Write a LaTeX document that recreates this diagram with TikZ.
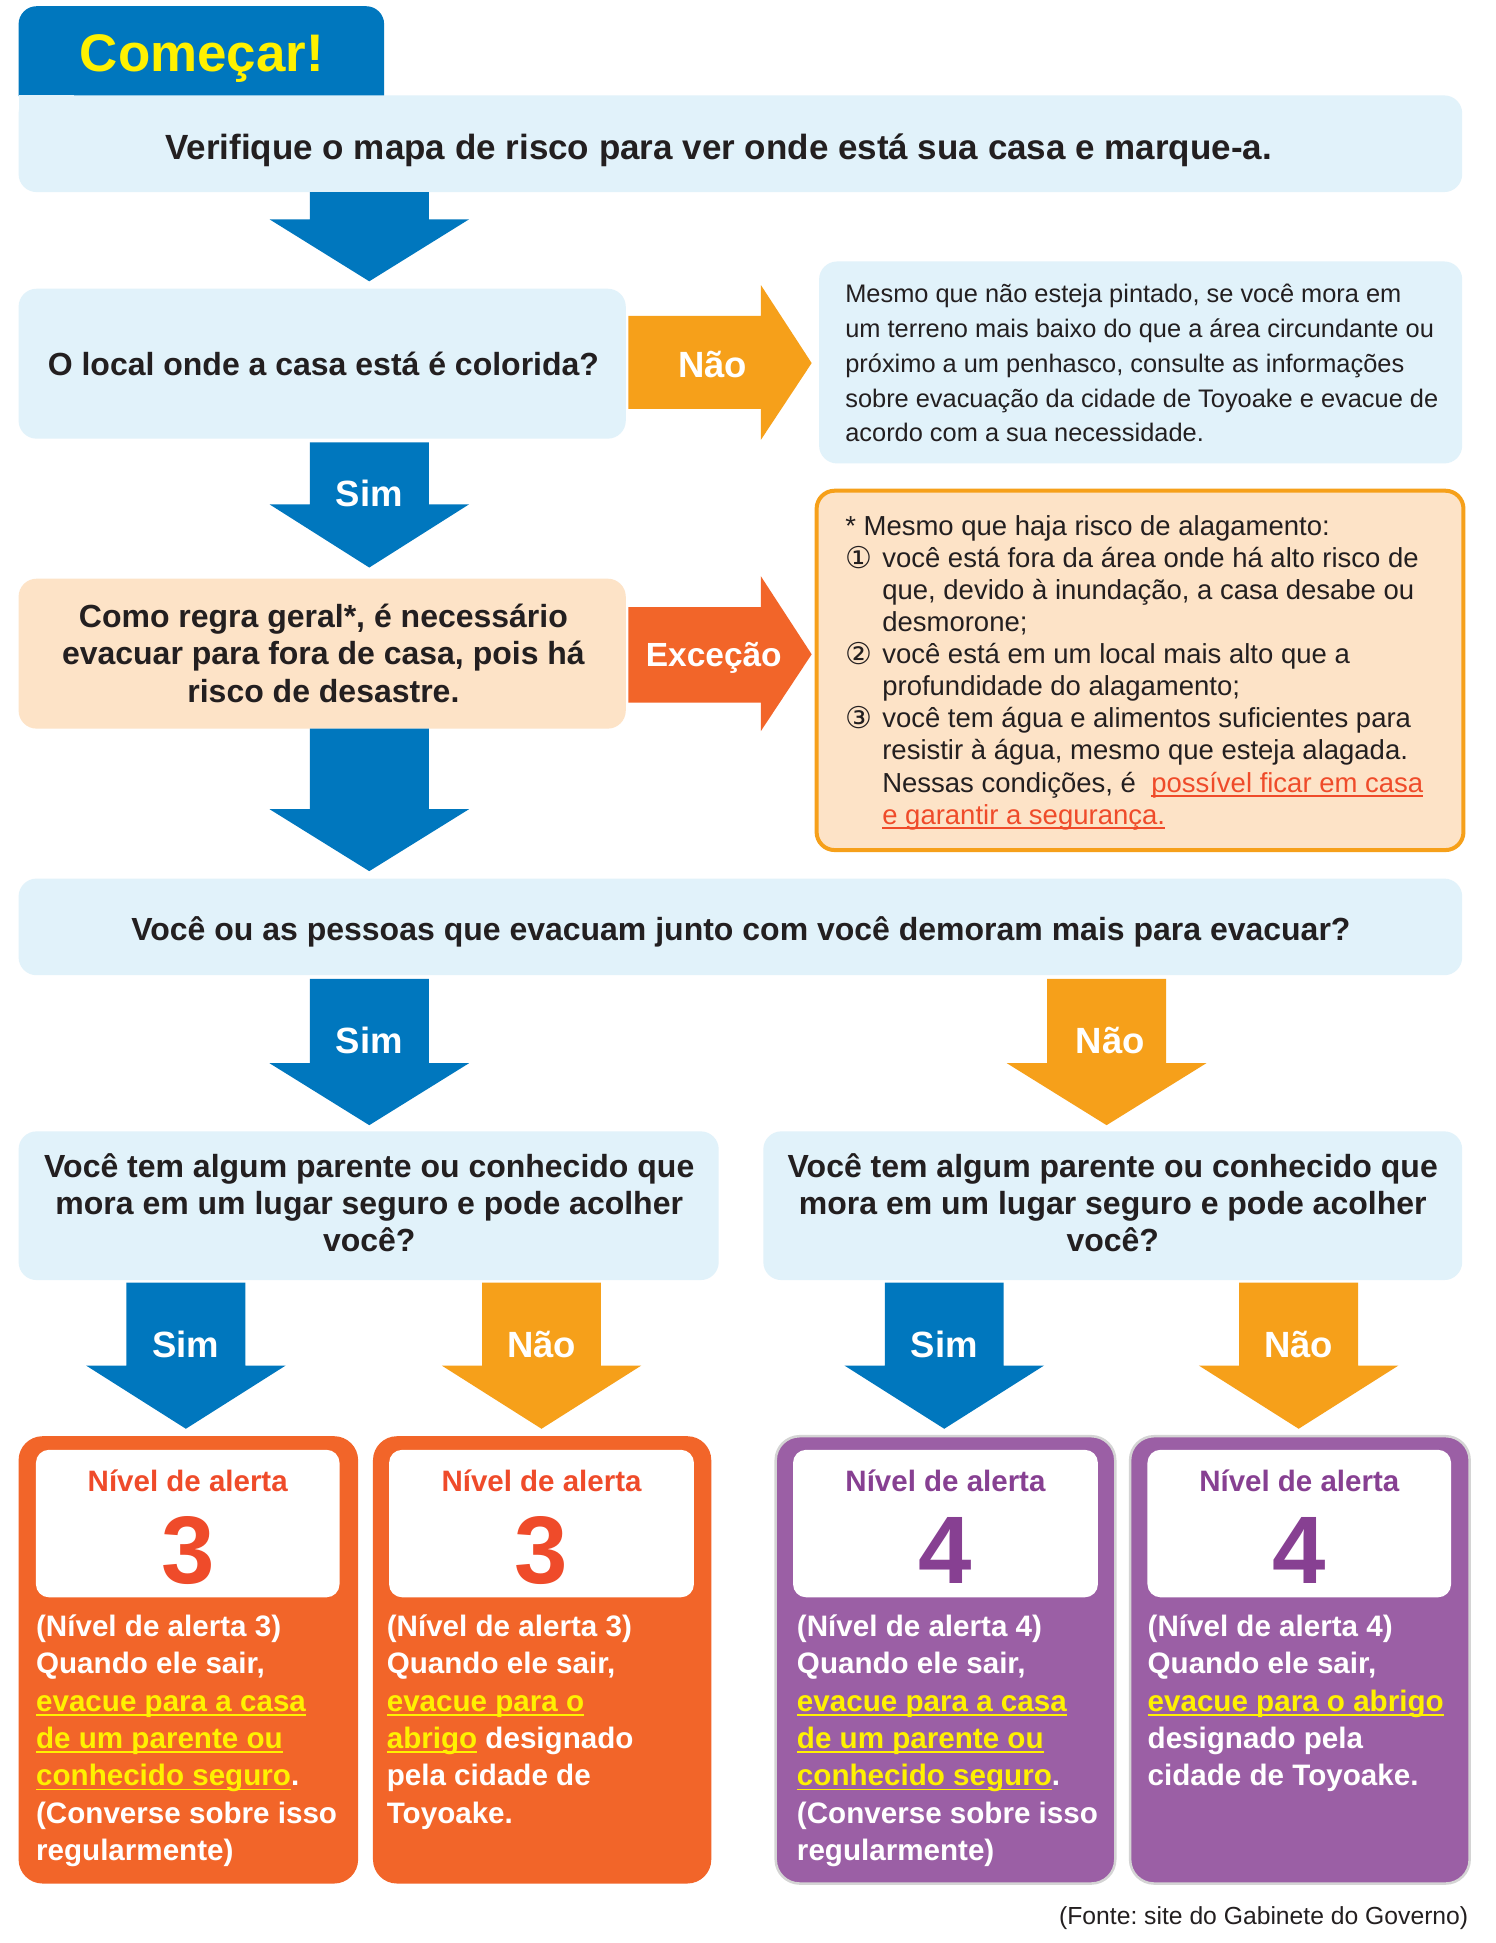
\documentclass[tikz,border=0pt]{standalone}
\usepackage{fontspec}
\setmainfont{Liberation Sans}
\newfontfamily\symfont{DejaVu Sans}
\usetikzlibrary{fit}
\definecolor{cblue}{RGB}{0,119,190}
\definecolor{lblue}{RGB}{225,242,250}
\definecolor{corange}{RGB}{246,160,26}
\definecolor{cred}{RGB}{242,101,41}
\definecolor{peach}{RGB}{253,227,199}
\definecolor{cpurple}{RGB}{155,95,165}
\definecolor{dpurple}{RGB}{135,64,146}
\definecolor{tred}{RGB}{239,75,42}
\definecolor{cyellow}{RGB}{255,241,0}
\definecolor{ctext}{RGB}{35,31,32}
\definecolor{cgrey}{RGB}{212,212,212}
\newcommand\myul[1]{\setbox0\hbox{#1}\rlap{\rule[-4.5pt]{\wd0}{1.8pt}}\box0}
\newcommand\yul[1]{{\color{cyellow}\myul{#1}}}
\newcommand\rul[1]{{\color{tred}\myul{#1}}}
\newcommand\circd[1]{\makebox[37pt][l]{\raisebox{-1pt}{\symfont\fontsize{30}{30}\selectfont #1}}}
\newcommand\ind{\hspace*{37pt}}
\newcommand\downblk[5]{%
  \fill[#5] ({#1-48},#2) -- ({#1+48},#2) -- ({#1+48},#3) -- ({#1+80.5},#3) -- (#1,#4) -- ({#1-80.5},#3) -- ({#1-48},#3) -- cycle;}
\tikzset{
  box/.style={fill=lblue, rounded corners=18pt, inner sep=0pt},
  pbox/.style={fill=peach, rounded corners=18pt, inner sep=0pt},
  qtext/.style={font=\fontsize{32}{37.8}\selectfont\bfseries, text=ctext, inner sep=0pt},
  albl/.style={font=\fontsize{36.5}{40}\selectfont\bfseries, text=white, inner sep=0pt, anchor=base},
  card3/.style={fill=cred, rounded corners=24pt, inner sep=0pt},
  card4/.style={fill=cpurple, draw=cgrey, line width=2.5pt, rounded corners=24pt, inner sep=0pt},
  wbox/.style={fill=white, rounded corners=13pt, inner sep=0pt},
  lvl/.style={font=\fontsize{29.5}{34}\selectfont\bfseries, inner sep=0pt, anchor=base},
  digit/.style={font=\fontsize{96}{100}\selectfont\bfseries, inner sep=0pt, anchor=base},
  ctext/.style={font=\fontsize{29.6}{37.4}\selectfont\bfseries, text=white, inner sep=0pt, anchor=base west},
}
\frenchspacing
\begin{document}
\begin{tikzpicture}[x=1.2394pt,y=-1.2394pt]
\useasboundingbox[fill=white] (0,0) rectangle (1207,1568);

% start tab and first box
\fill[cblue] (15,77.5) [rounded corners=18pt] -- (15,5) -- (310,5) [sharp corners] -- (310,77.5) -- cycle;
\node[box, fit={(15,77) (1180,155)}] (b1) {};
\fill[lblue] (15,77) rectangle (60,120);
\node[anchor=base, font=\fontsize{52.9}{60}\selectfont\bfseries, text=cyellow, inner sep=0pt] (start) at (163,58) {Começar!};
\node[qtext, font=\fontsize{35}{40}\selectfont\bfseries, anchor=base] (t1) at (580,129) {Verifique o mapa de risco para ver onde está sua casa e marque-a.};

\downblk{298}{155}{177}{227}{cblue}

% question 1
\node[box, fit={(15,233) (505,354)}] (b2) {};
\node[qtext, anchor=base] (t2) at (261,303) {O local onde a casa está é colorida?};
\fill[corange] (507,255) -- (614,255) -- (614,230) -- (655,293) -- (614,355) -- (614,330) -- (507,330) -- cycle;
\node[albl] (nao1) at (575,304.5) {Não};
\node[box, fit={(661,211) (1180,374)}] (b3) {};
\node[anchor=base west, inner sep=0pt, text=ctext, font=\fontsize{25.4}{34.7}\selectfont] (t3) at (682,244.5) {\begin{tabular}[t]{@{}l@{}}
Mesmo que não esteja pintado, se você mora em\\
um terreno mais baixo do que a área circundante ou\\
próximo a um penhasco, consulte as informações\\
sobre evacuação da cidade de Toyoake e evacue de\\
acordo com a sua necessidade.
\end{tabular}};

\downblk{298}{357}{407}{458}{cblue}
\node[albl] (sim1) at (298,408.5) {Sim};

% rule
\node[pbox, fit={(15,467) (505,588)}] (b4) {};
\node[qtext, anchor=base] (t4) at (261,506) {\begin{tabular}[t]{@{}c@{}}
Como regra geral*, é necessário\\
evacuar para fora de casa, pois há\\
risco de desastre.
\end{tabular}};
\fill[cred] (507,490) -- (614,490) -- (614,465) -- (655,528) -- (614,590) -- (614,567) -- (507,567) -- cycle;
\node[albl, font=\fontsize{33.5}{38}\selectfont\bfseries] (exc) at (576,537.7) {Exceção};
\node[pbox, draw=corange, line width=4pt, fit={(659,396) (1181,686)}] (b5) {};
\node[anchor=base west, inner sep=0pt, text=ctext, font=\fontsize{27.5}{32.1}\selectfont] (t5) at (682,432) {\begin{tabular}[t]{@{}l@{}}
* Mesmo que haja risco de alagamento:\\
\circd{①}você está fora da área onde há alto risco de\\
\ind que, devido à inundação, a casa desabe ou\\
\ind desmorone;\\
\circd{②}você está em um local mais alto que a\\
\ind profundidade do alagamento;\\
\circd{③}você tem água e alimentos suficientes para\\
\ind resistir à água, mesmo que esteja alagada.\\
\ind Nessas condições, é \ \rul{possível ficar em casa}\\
\ind \rul{e garantir a segurança.}
\end{tabular}};

\downblk{298}{588}{653}{703}{cblue}

% question 2
\node[box, fit={(15,709) (1180,787)}] (b6) {};
\node[qtext, anchor=base] (t6) at (598,759) {Você ou as pessoas que evacuam junto com você demoram mais para evacuar?};
\downblk{298}{790}{858}{908}{cblue}
\node[albl] (sim2) at (298,850.5) {Sim};
\downblk{893}{790}{858}{908}{corange}
\node[albl] (nao2) at (896,850.5) {Não};

% question 3
\node[box, fit={(15,913) (580,1033)}] (b7) {};
\node[qtext, font=\fontsize{32}{37.2}\selectfont\bfseries, anchor=base] (t7) at (298,950) {\begin{tabular}[t]{@{}c@{}}
Você tem algum parente ou conhecido que\\
mora em um lugar seguro e pode acolher\\
você?
\end{tabular}};
\node[box, fit={(616,913) (1180,1033)}] (b8) {};
\node[qtext, font=\fontsize{32}{37.2}\selectfont\bfseries, anchor=base] (t8) at (898,950) {\begin{tabular}[t]{@{}c@{}}
Você tem algum parente ou conhecido que\\
mora em um lugar seguro e pode acolher\\
você?
\end{tabular}};

\downblk{150}{1035}{1102}{1153}{cblue}
\node[albl] (sim3) at (150,1095.5) {Sim};
\downblk{437}{1035}{1102}{1153}{corange}
\node[albl] (nao3) at (437,1095.5) {Não};
\downblk{762}{1035}{1102}{1153}{cblue}
\node[albl] (sim4) at (762,1095.5) {Sim};
\downblk{1048}{1035}{1102}{1153}{corange}
\node[albl] (nao4) at (1048,1095.5) {Não};

% cards
\node[card3, fit={(15,1159) (289,1520)}] (c1) {};
\node[wbox, fit={(29,1170) (274,1289)}] (w1) {};
\node[lvl, text=tred] (l1) at (151.5,1203.5) {Nível de alerta};
\node[digit, text=tred] (d1) at (151.5,1278) {3};
\node[ctext] (x1) at (29,1320.5) {\begin{tabular}[t]{@{}l@{}}
(Nível de alerta 3)\\
Quando ele sair,\\
\yul{evacue para a casa}\\
\yul{de um parente ou}\\
\yul{conhecido seguro}.\\
(Converse sobre isso\\
regularmente)
\end{tabular}};

\node[card3, fit={(301,1159) (574,1520)}] (c2) {};
\node[wbox, fit={(314,1170) (560,1289)}] (w2) {};
\node[lvl, text=tred] (l2) at (437,1203.5) {Nível de alerta};
\node[digit, text=tred] (d2) at (437,1278) {3};
\node[ctext] (x2) at (312,1320.5) {\begin{tabular}[t]{@{}l@{}}
(Nível de alerta 3)\\
Quando ele sair,\\
\yul{evacue para o}\\
\yul{abrigo} designado\\
pela cidade de\\
Toyoake.
\end{tabular}};

\node[card4, fit={(626,1159) (900,1520)}] (c3) {};
\node[wbox, fit={(640,1170) (886,1289)}] (w3) {};
\node[lvl, text=dpurple] (l3) at (763,1203.5) {Nível de alerta};
\node[digit, text=dpurple] (d3) at (763,1278) {4};
\node[ctext] (x3) at (643,1320.5) {\begin{tabular}[t]{@{}l@{}}
(Nível de alerta 4)\\
Quando ele sair,\\
\yul{evacue para a casa}\\
\yul{de um parente ou}\\
\yul{conhecido seguro}.\\
(Converse sobre isso\\
regularmente)
\end{tabular}};

\node[card4, fit={(912,1159) (1186,1520)}] (c4) {};
\node[wbox, fit={(926,1170) (1171,1289)}] (w4) {};
\node[lvl, text=dpurple] (l4) at (1048.5,1203.5) {Nível de alerta};
\node[digit, text=dpurple] (d4) at (1048.5,1278) {4};
\node[ctext] (x4) at (926,1320.5) {\begin{tabular}[t]{@{}l@{}}
(Nível de alerta 4)\\
Quando ele sair,\\
\yul{evacue para o abrigo}\\
designado pela\\
cidade de Toyoake.
\end{tabular}};

\node[anchor=base east, inner sep=0pt, text=ctext, font=\fontsize{24.7}{30}\selectfont] (src) at (1185,1553) {(Fonte: site do Gabinete do Governo)};
\end{tikzpicture}
\end{document}
